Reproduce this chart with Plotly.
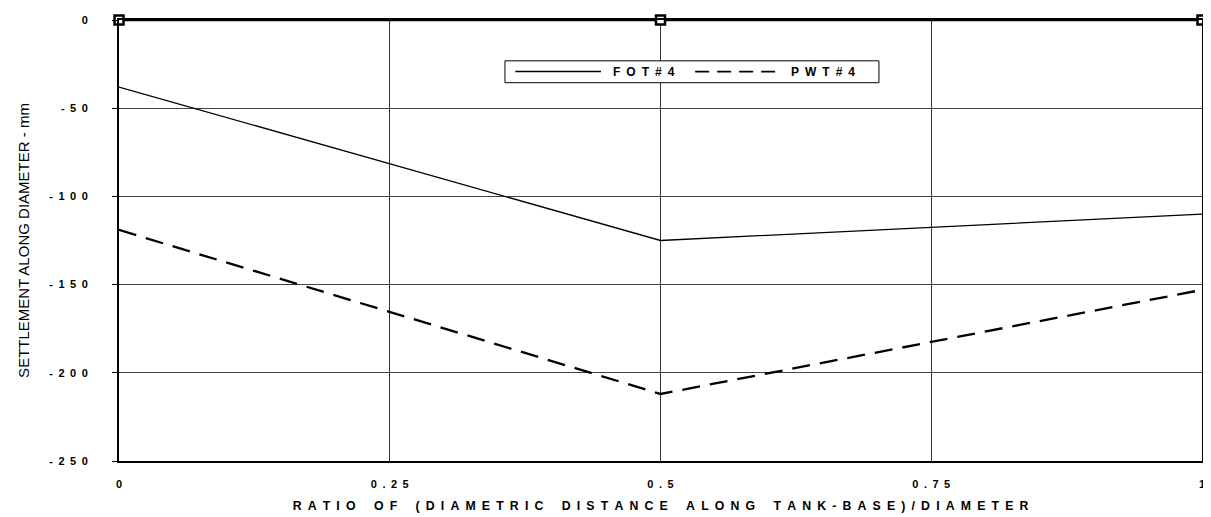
import plotly.graph_objects as go

# Data
ratio = [0, 0.5, 1]
fot4 = [-38, -125, -110]
pwt4 = [-119, -212, -153]
zero_ref = [0, 0, 0]

x_ticks = [0, 0.25, 0.5, 0.75, 1]
x_ticklabels = ["0", "0.25", "0.5", "0.75", "1"]
y_ticks = [0, -50, -100, -150, -200, -250]
y_ticklabels = ["0", "-50", "-100", "-150", "-200", "-250"]
legend_names = ["FOT#4", "PWT#4"]
x_title = "RATIO OF (DIAMETRIC DISTANCE ALONG TANK-BASE)/DIAMETER"
y_title = "SETTLEMENT ALONG DIAMETER - mm"

EN = "\u2002"


def spaced(s, gap=EN):
    """Letter-spaced look of the scanned original."""
    words = s.split(" ")
    return (gap * 3).join(gap.join(list(w)) for w in words)


font_family = "Liberation Sans, Arial, sans-serif"

fig = go.Figure()
fig.add_trace(go.Scatter(
    x=ratio, y=fot4, mode="lines", name=legend_names[0], showlegend=False,
    line=dict(color="black", width=1.3)))
fig.add_trace(go.Scatter(
    x=ratio, y=pwt4, mode="lines", name=legend_names[1], showlegend=False,
    line=dict(color="black", width=2.3, dash="18px,10px")))
fig.add_trace(go.Scatter(
    x=ratio, y=zero_ref, mode="lines+markers", showlegend=False,
    line=dict(color="black", width=2.5),
    marker=dict(symbol="square", size=9, color="white",
                line=dict(color="black", width=2.5)),
    cliponaxis=False))

# Manual legend box (paper coordinates)
shapes = [
    dict(type="rect", xref="paper", yref="paper", x0=0.3564, x1=0.7017,
         y0=0.8578, y1=0.9074, line=dict(color="black", width=1),
         fillcolor="white", layer="above"),
    dict(type="line", xref="paper", yref="paper", x0=0.366, x1=0.445,
         y0=0.883, y1=0.883, line=dict(color="black", width=1.5), layer="above"),
    dict(type="line", xref="paper", yref="paper", x0=0.532, x1=0.607,
         y0=0.883, y1=0.883, line=dict(color="black", width=1.8, dash="14px,8px"),
         layer="above"),
]
annotations = [
    dict(text=spaced(legend_names[0]), xref="paper", yref="paper", x=0.454, y=0.883,
         xanchor="left", yanchor="middle", showarrow=False,
         font=dict(size=12, weight="bold")),
    dict(text=spaced(legend_names[1]), xref="paper", yref="paper", x=0.619, y=0.883,
         xanchor="left", yanchor="middle", showarrow=False,
         font=dict(size=12, weight="bold")),
]

fig.update_layout(
    width=1203, height=509,
    margin=dict(l=111, r=6, t=11, b=55),
    paper_bgcolor="white", plot_bgcolor="white",
    font=dict(family=font_family, size=11, color="black"),
    showlegend=False,
    shapes=shapes, annotations=annotations,
    xaxis=dict(
        range=[0, 1], tickvals=x_ticks, ticktext=[spaced(t) for t in x_ticklabels],
        showgrid=True, gridcolor="#333", gridwidth=1,
        showline=True, linecolor="black", linewidth=2, mirror=True,
        zeroline=False, ticks="", ticklabelstandoff=12,
        title=dict(text=spaced(x_title),
                   font=dict(size=12.3, weight="bold"), standoff=12),
        tickfont=dict(size=11, weight="bold")),
    yaxis=dict(
        range=[-250, 0], tickvals=y_ticks, ticktext=[spaced(t) for t in y_ticklabels],
        showgrid=True, gridcolor="#444", gridwidth=1,
        showline=True, linecolor="black", linewidth=2, mirror=True,
        zeroline=False, ticks="outside", ticklen=5, tickcolor="black",
        ticklabelstandoff=22,
        title=dict(text=y_title,
                   font=dict(size=15), standoff=16),
        tickfont=dict(size=11, weight="bold")),
)

fig.write_html("out.html")
